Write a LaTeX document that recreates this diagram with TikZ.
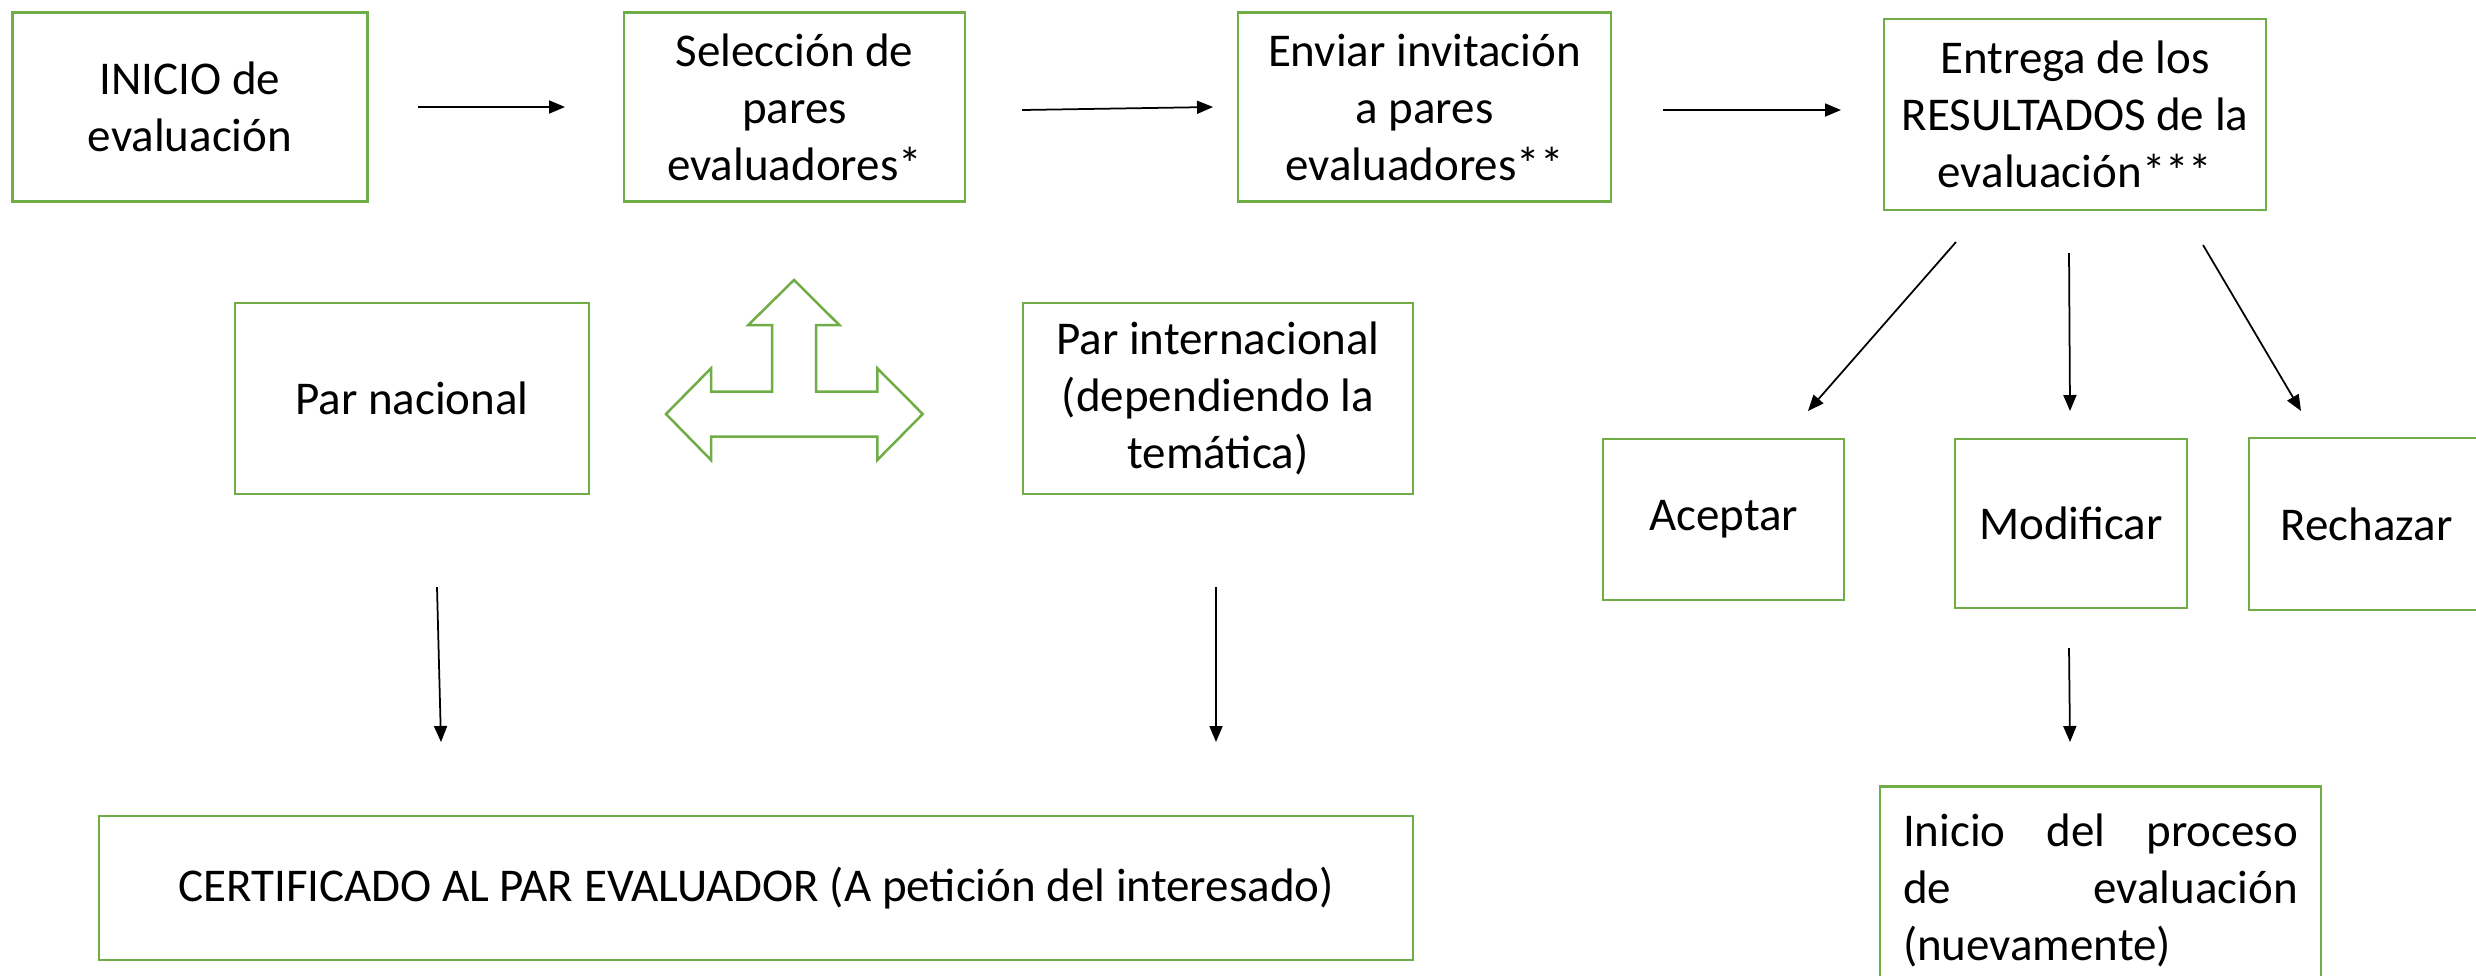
\documentclass[tikz,border=0pt]{standalone}
\usepackage{fontspec}
\setmainfont{Carlito}
\usetikzlibrary{arrows.meta}
\definecolor{boxgreen}{HTML}{70AD47}
\begin{document}
\begin{tikzpicture}[x=0.4pt,y=-0.4pt,
  box/.style={draw=boxgreen, line width=1pt, inner sep=2pt, align=center,
    font=\fontsize{18.8}{22.8}\selectfont},
  conn/.style={draw=black, line width=0.7pt, -{Triangle[length=6.4pt,width=5.2pt]}},
  bigarrow/.style={draw=boxgreen, line width=1pt, line join=miter}]
\clip (0,0) rectangle (2476,975);
\fill[white] (0,0) rectangle (2476,975);

% top row
\node[box, minimum width=142pt, minimum height=75.6pt] (inicio) at (190,107) {INICIO de\\evaluación};
\node[box, minimum width=136.4pt, minimum height=75.6pt] (seleccion) at (794.5,107) {Selección de\\pares\\evaluadores*};
\node[box, minimum width=149.2pt, minimum height=75.6pt] (enviar) at (1424.5,107) {Enviar invitación\\a pares\\evaluadores**};
\node[box, minimum width=152.8pt, minimum height=76.4pt] (entrega) at (2075,114.5) {Entrega de los\\RESULTADOS de la\\evaluación***};

% results
\node[box, minimum width=96.4pt, minimum height=64.4pt] (aceptar) at (1723.5,519.5) {Aceptar};
\node[box, minimum width=92.8pt, minimum height=67.6pt] (modificar) at (2071,523.5) {Modificar};
\node[box, minimum width=94pt, minimum height=68.8pt] (rechazar) at (2366.5,524) {Rechazar};
\node[box, anchor=north, minimum width=176.4pt, minimum height=83pt, text width=158pt,
  inner xsep=9.2pt, inner ysep=4.2pt, align=justify] (nuevo) at (2100.5,785)
  {\tolerance=10000 Inicio del proceso\linebreak de evaluación\linebreak (nuevamente)};

% pares
\node[box, minimum width=141.6pt, minimum height=76.4pt] (nacional) at (412,398.5) {Par nacional};
\node[box, minimum width=156pt, minimum height=76.4pt] (internacional) at (1218,398.5) {Par internacional\\(dependiendo la\\temática)};
\node[box, minimum width=525.6pt, minimum height=57.6pt] (certificado) at (756,888) {CERTIFICADO AL PAR EVALUADOR (A petición del interesado)};

% three-way arrow
\draw[bigarrow] (794,280) -- (839.3,325) -- (816,325) -- (816,391.7) -- (877.3,391.7)
  -- (877.3,368.3) -- (922.7,414) -- (877.3,460) -- (877.3,436.7) -- (711,436.7)
  -- (711,460) -- (666,414) -- (711,368.3) -- (711,391.7) -- (772,391.7)
  -- (772,325) -- (748.3,325) -- cycle;

% connector end points
\coordinate (a1s) at (418,107);   \coordinate (a1e) at (565,107);
\coordinate (a2s) at (1022,110);  \coordinate (a2e) at (1213,107);
\coordinate (a3s) at (1663,110);  \coordinate (a3e) at (1841,110);
\coordinate (a4s) at (1956,242);  \coordinate (a4e) at (1808,411);
\coordinate (a5s) at (2069,253);  \coordinate (a5e) at (2070,411);
\coordinate (a6s) at (2203,245);  \coordinate (a6e) at (2301,411);
\coordinate (a7s) at (2069,648);  \coordinate (a7e) at (2070,742);
\coordinate (a8s) at (437,587);   \coordinate (a8e) at (441,742);
\coordinate (a9s) at (1216,587);  \coordinate (a9e) at (1216,742);

\draw[conn] (a1s) -- (a1e);
\draw[conn] (a2s) -- (a2e);
\draw[conn] (a3s) -- (a3e);
\draw[conn] (a4s) -- (a4e);
\draw[conn] (a5s) -- (a5e);
\draw[conn] (a6s) -- (a6e);
\draw[conn] (a7s) -- (a7e);
\draw[conn] (a8s) -- (a8e);
\draw[conn] (a9s) -- (a9e);
\end{tikzpicture}
\end{document}
